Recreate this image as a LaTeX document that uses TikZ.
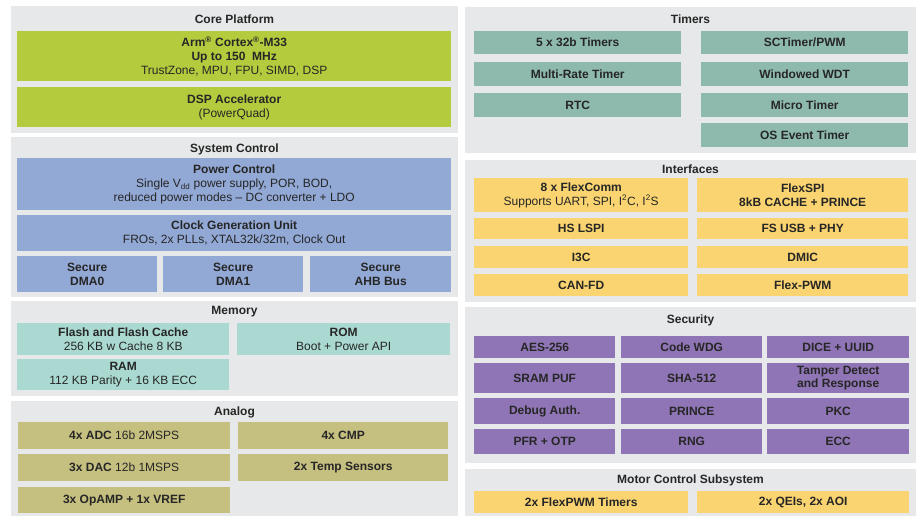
\documentclass[tikz,border=0pt]{standalone}
\usepackage{fontspec}
\setmainfont{Liberation Sans}
\definecolor{panelgray}{RGB}{231,232,233}
\definecolor{txt}{RGB}{38,38,38}
\definecolor{cgreen}{RGB}{181,203,62}
\definecolor{cblue}{RGB}{146,168,213}
\definecolor{cmem}{RGB}{170,217,209}
\definecolor{cana}{RGB}{197,191,128}
\definecolor{ctim}{RGB}{142,185,173}
\definecolor{cyel}{RGB}{250,212,112}
\definecolor{cpur}{RGB}{143,117,181}
\tikzset{
  panel/.style={fill=panelgray, draw=none, inner sep=0pt, anchor=north west},
  ttl/.style={font=\fontsize{12}{13}\selectfont\bfseries, text=txt, inner sep=0pt},
  blk/.style={draw=none, inner sep=0pt, anchor=north west, align=center, text=txt,
              font=\fontsize{12}{13.7}\selectfont},
}
\newcommand\pnl[5]{\node[panel,minimum width=#4pt,minimum height=#5pt] (#1) at (#2,#3) {};}
\newcommand\blk[7]{\node[blk,fill=#6,minimum width=#4pt,minimum height=#5pt] (#1) at (#2,#3) {#7};}
\begin{document}
\begin{tikzpicture}[x=1pt,y=-1pt]
\useasboundingbox[fill=white] (0,0) rectangle (918,516);
% ---------- Core Platform
\pnl{core}{11}{6}{447}{127}
\node[ttl] (coreT) at (234.5,19) {Core Platform};
\blk{cpu}{17}{31}{434}{50}{cgreen}{\textbf{Arm\textsuperscript{®} Cortex\textsuperscript{®}-M33}\\ \textbf{Up to 150~~MHz}\\ TrustZone, MPU, FPU, SIMD, DSP}
\blk{dsp}{17}{87}{434}{40}{cgreen}{\textbf{DSP Accelerator}\\ (PowerQuad)}
% ---------- System Control
\pnl{sys}{11}{137}{447}{160}
\node[ttl] (sysT) at (234.5,149) {System Control};
\blk{pwr}{17}{158}{434}{52}{cblue}{\textbf{Power Control}\\ Single V\textsubscript{dd} power supply, POR, BOD,\\ reduced power modes -- DC converter + LDO}
\blk{clk}{17}{215}{434}{36}{cblue}{\textbf{Clock Generation Unit}\\ FROs, 2x PLLs, XTAL32k/32m, Clock Out}
\blk{dma0}{17}{256}{140}{36}{cblue}{\textbf{Secure}\\ \textbf{DMA0}}
\blk{dma1}{163}{256}{140}{36}{cblue}{\textbf{Secure}\\ \textbf{DMA1}}
\blk{ahb}{310}{256}{141}{36}{cblue}{\textbf{Secure}\\ \textbf{AHB Bus}}
% ---------- Memory
\pnl{mem}{11}{301}{447}{95}
\node[ttl] (memT) at (234.5,312) {Memory};
\blk{flash}{17}{323}{212}{32}{cmem}{\textbf{Flash and Flash Cache}\\ 256 KB w Cache 8 KB}
\blk{rom}{237}{323}{213}{32}{cmem}{\textbf{ROM}\\ Boot + Power API}
\blk{ram}{17}{359}{212}{31}{cmem}{\textbf{RAM}\\ 112 KB Parity + 16 KB ECC}
% ---------- Analog
\pnl{ana}{11}{401}{447}{115}
\node[ttl] (anaT) at (234.5,412) {Analog};
\blk{adc}{18}{422}{212}{27}{cana}{\textbf{4x ADC} 16b 2MSPS}
\blk{cmp}{238}{422}{210}{27}{cana}{\textbf{4x CMP}}
\blk{dac}{18}{454}{212}{27}{cana}{\textbf{3x DAC} 12b 1MSPS}
\blk{temp}{238}{454}{210}{27}{cana}{\textbf{2x Temp Sensors}}
\blk{opamp}{18}{487}{212}{26}{cana}{\textbf{3x OpAMP + 1x VREF}}
% ---------- Timers
\pnl{tim}{465}{7}{451}{146}
\node[ttl] (timT) at (690.5,19) {Timers};
\blk{t5}{474}{31}{207}{23}{ctim}{\textbf{5 x 32b Timers}}
\blk{mrt}{474}{62}{207}{24}{ctim}{\textbf{Multi-Rate Timer}}
\blk{rtc}{474}{93}{207}{24}{ctim}{\textbf{RTC}}
\blk{sct}{701}{31}{207}{23}{ctim}{\textbf{SCTimer/PWM}}
\blk{wdt}{701}{62}{207}{24}{ctim}{\textbf{Windowed WDT}}
\blk{utick}{701}{93}{207}{24}{ctim}{\textbf{Micro Timer}}
\blk{ost}{701}{123}{207}{24}{ctim}{\textbf{OS Event Timer}}
% ---------- Interfaces
\pnl{ifc}{465}{160}{451}{142}
\node[ttl] (ifcT) at (690.5,169) {Interfaces};
\blk{fc}{474}{178}{214}{34}{cyel}{\textbf{8 x FlexComm}\\ Supports UART, SPI, I\textsuperscript{2}C, I\textsuperscript{2}S}
\blk{fspi}{697}{178}{211}{34}{cyel}{\textbf{FlexSPI}\\ \textbf{8kB CACHE + PRINCE}}
\blk{lspi}{474}{218}{214}{21}{cyel}{\textbf{HS LSPI}}
\blk{usb}{697}{218}{211}{21}{cyel}{\textbf{FS USB + PHY}}
\blk{i3c}{474}{246}{214}{22}{cyel}{\textbf{I3C}}
\blk{dmic}{697}{246}{211}{22}{cyel}{\textbf{DMIC}}
\blk{can}{474}{274}{214}{22}{cyel}{\textbf{CAN-FD}}
\blk{fpwm}{697}{274}{211}{22}{cyel}{\textbf{Flex-PWM}}
% ---------- Security
\pnl{sec}{465}{307}{451}{156}
\node[ttl] (secT) at (690.5,320) {Security};
\blk{aes}{474}{336}{141}{22}{cpur}{\textbf{AES-256}}
\blk{cwdg}{621}{336}{141}{22}{cpur}{\textbf{Code WDG}}
\blk{dice}{767}{336}{142}{22}{cpur}{\textbf{DICE + UUID}}
\blk{puf}{474}{363}{141}{30}{cpur}{\textbf{SRAM PUF}}
\blk{sha}{621}{363}{141}{30}{cpur}{\textbf{SHA-512}}
\blk{tamp}{767}{363}{142}{30}{cpur}{\textbf{Tamper Detect}\\ \textbf{and Response}}
\blk{dbg}{474}{398}{141}{26}{cpur}{\textbf{Debug Auth.}}
\blk{prince}{621}{398}{141}{26}{cpur}{\textbf{PRINCE}}
\blk{pkc}{767}{398}{142}{26}{cpur}{\textbf{PKC}}
\blk{pfr}{474}{429}{141}{25}{cpur}{\textbf{PFR + OTP}}
\blk{rng}{621}{429}{141}{25}{cpur}{\textbf{RNG}}
\blk{ecc}{767}{429}{142}{25}{cpur}{\textbf{ECC}}
% ---------- Motor Control
\pnl{mot}{465}{469}{451}{47}
\node[ttl] (motT) at (690.5,480) {Motor Control Subsystem};
\blk{pwmt}{474}{491}{214}{22}{cyel}{\textbf{2x FlexPWM Timers}}
\blk{qei}{697}{491}{212}{22}{cyel}{\textbf{2x QEIs, 2x AOI}}
\end{tikzpicture}
\end{document}
